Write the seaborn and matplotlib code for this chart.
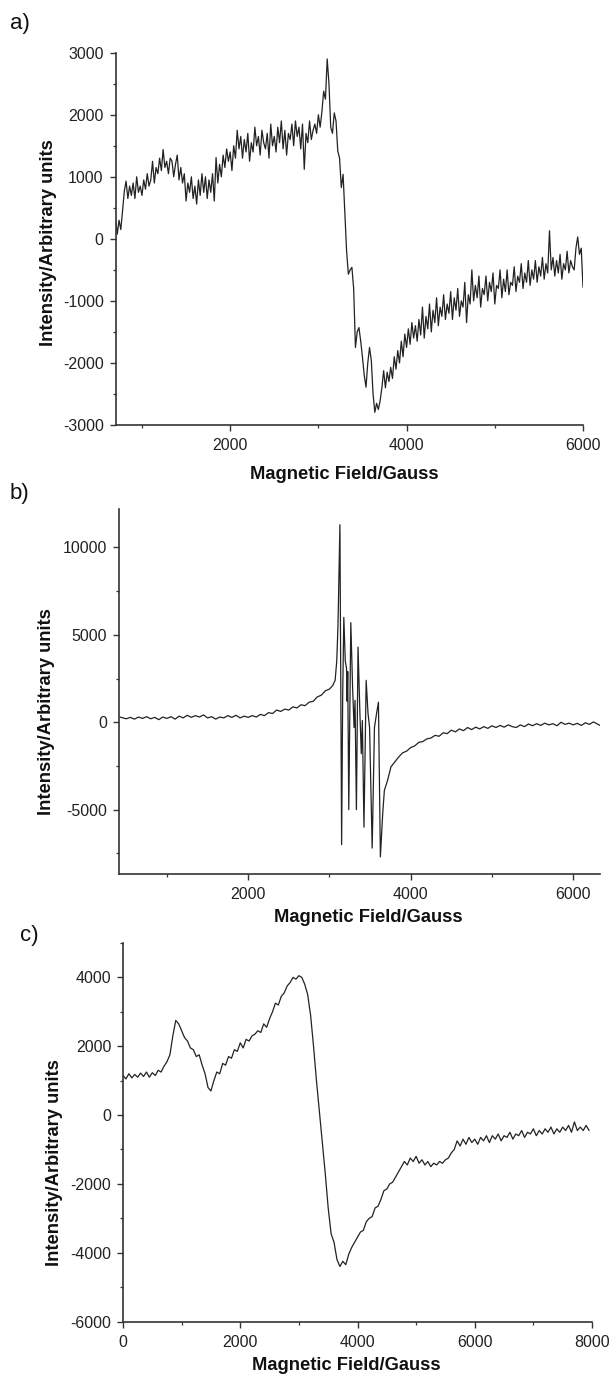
import numpy as np
import pandas as pd
import matplotlib
matplotlib.use("Agg")
import matplotlib.pyplot as plt
from matplotlib.ticker import MultipleLocator
import seaborn as sns

# ---- panel a: field sweep from 700 G, 20 G per point ----
int_a = [340, 75, 300, 150, 450, 770, 930, 650, 850, 700,
         900, 650, 1000, 750, 850, 700, 950, 800, 1050, 850,
         950, 1250, 900, 1150, 1050, 1300, 1100, 1440, 1150, 1250,
         1050, 1300, 1255, 1000, 1200, 1350, 950, 1150, 900, 1050,
         610, 900, 750, 1000, 650, 850, 560, 950, 700, 1050,
         750, 1000, 650, 950, 750, 1050, 610, 1310, 900, 1200,
         1000, 1350, 1150, 1450, 1250, 1400, 1100, 1500, 1300, 1750,
         1450, 1650, 1300, 1600, 1400, 1700, 1250, 1550, 1400, 1800,
         1500, 1650, 1350, 1750, 1550, 1450, 1700, 1300, 1850, 1500,
         1650, 1400, 1800, 1550, 1900, 1450, 1750, 1350, 1700, 1600,
         1850, 1500, 1900, 1650, 1800, 1450, 1850, 1120, 1700, 1550,
         1900, 1600, 1750, 1850, 1700, 2000, 1800, 2050, 2380, 2250,
         2900, 2500, 1800, 1700, 2030, 1900, 1415, 1300, 826, 1040,
         400, -200, -570, -500, -460, -800, -1750, -1500, -1430, -1650,
         -1910, -2200, -2390, -2000, -1750, -1960, -2500, -2795, -2650, -2750,
         -2610, -2400, -2125, -2400, -2150, -2300, -2070, -2250, -1900, -2100,
         -1800, -2000, -1650, -1900, -1535, -1750, -1450, -1700, -1350, -1600,
         -1400, -1650, -1300, -1550, -1100, -1600, -1250, -1450, -1050, -1500,
         -1150, -1350, -950, -1400, -1100, -1250, -900, -1300, -1050, -1200,
         -850, -1300, -950, -1150, -800, -1250, -1000, -1100, -700, -1350,
         -900, -1050, -500, -1000, -750, -950, -600, -1100, -800, -900,
         -600, -1000, -700, -850, -550, -1050, -750, -800, -500, -950,
         -650, -850, -500, -900, -700, -750, -450, -850, -600, -700,
         -400, -800, -550, -700, -350, -750, -500, -650, -350, -700,
         -450, -600, -300, -650, -400, -550, 130, -500, -300, -600,
         -350, -550, -250, -650, -400, -500, -200, -550, -350, -450,
         -500, -150, 30, -250, -150, -780]
field_a = np.arange(700, 700 + 20 * len(int_a), 20)

# ---- panel b ----
field_b = [420, 500, 550, 600, 650, 700, 750, 800, 850, 900,
           950, 1000, 1050, 1100, 1150, 1200, 1250, 1300, 1350, 1400,
           1450, 1500, 1550, 1600, 1650, 1700, 1750, 1800, 1850, 1900,
           1950, 2000, 2050, 2100, 2150, 2200, 2250, 2300, 2350, 2400,
           2450, 2500, 2550, 2600, 2650, 2700, 2750, 2800, 2850, 2900,
           2950, 3000, 3040, 3070, 3090, 3105, 3118, 3129, 3140, 3150,
           3163, 3177, 3195, 3210, 3218, 3225, 3238, 3263, 3285, 3303,
           3315, 3332, 3352, 3375, 3392, 3405, 3425, 3452, 3475, 3494,
           3526, 3554, 3580, 3603, 3627, 3656, 3676, 3717, 3757, 3800,
           3850, 3900, 3950, 4000, 4050, 4100, 4150, 4200, 4250, 4300,
           4350, 4400, 4450, 4500, 4550, 4600, 4650, 4700, 4750, 4800,
           4850, 4900, 4950, 5000, 5050, 5100, 5150, 5200, 5250, 5300,
           5350, 5400, 5450, 5500, 5550, 5600, 5650, 5700, 5750, 5800,
           5850, 5900, 5950, 6000, 6050, 6100, 6150, 6200, 6250, 6330]
int_b = [300, 200, 280, 180, 300, 220, 320, 200, 280, 150,
         300, 220, 320, 180, 350, 250, 400, 280, 380, 300,
         420, 250, 320, 180, 300, 250, 380, 280, 400, 250,
         350, 280, 380, 300, 450, 380, 550, 500, 700, 620,
         750, 700, 880, 820, 1000, 950, 1150, 1200, 1450, 1550,
         1800, 1900, 2100, 2400, 3500, 5500, 8500, 11300, 2000, -7000,
         1500, 6000, 3500, 3100, 1200, 2900, -5000, 5700, 2000, -300,
         1260, -5000, 4300, 500, -1800, 100, -6000, 2400, 500, -300,
         -7200, -300, 500, 1150, -7700, -5200, -3900, -3300, -2550, -2300,
         -2000, -1750, -1650, -1450, -1350, -1150, -1100, -950, -900, -750,
         -800, -600, -650, -450, -550, -380, -480, -300, -420, -280,
         -380, -250, -350, -200, -300, -180, -280, -150, -250, -300,
         -150, -250, -100, -200, -80, -180, -50, -150, -80, -200,
         0, -120, -50, -150, -60, -180, -30, -120, 20, -180]

# ---- panel c: field sweep from 0 G, 50 G per point ----
int_c = [1150, 1050, 1200, 1080, 1180, 1100, 1220, 1120, 1250, 1100,
         1230, 1150, 1300, 1250, 1420, 1550, 1750, 2300, 2750, 2650,
         2450, 2250, 2150, 1950, 1900, 1700, 1750, 1450, 1200, 800,
         700, 1000, 1250, 1200, 1500, 1450, 1700, 1650, 1900, 1850,
         2100, 1950, 2200, 2150, 2300, 2350, 2450, 2400, 2650, 2550,
         2800, 3000, 3250, 3200, 3450, 3550, 3750, 3850, 4000, 3950,
         4050, 4000, 3800, 3500, 2900, 2000, 1000, 100, -800, -1700,
         -2700, -3450, -3700, -4200, -4400, -4250, -4350, -4050, -3850, -3700,
         -3550, -3400, -3350, -3100, -3000, -2950, -2700, -2650, -2450, -2200,
         -2150, -2000, -1950, -1800, -1650, -1500, -1350, -1450, -1250, -1350,
         -1200, -1400, -1300, -1450, -1350, -1500, -1400, -1450, -1350, -1400,
         -1300, -1250, -1100, -1000, -750, -900, -700, -850, -650, -800,
         -700, -850, -650, -750, -600, -800, -600, -700, -550, -750,
         -600, -650, -500, -700, -550, -600, -450, -650, -500, -550,
         -400, -600, -450, -550, -400, -500, -350, -550, -400, -500,
         -350, -450, -300, -500, -200, -450, -350, -450, -300, -450]
field_c = np.arange(0, 50 * len(int_c), 50)

xlabel = "Magnetic Field/Gauss"
ylabel = "Intensity/Arbitrary units"

sns.set_theme(style="ticks")
plt.rcParams['font.family'] = ['Liberation Sans', 'DejaVu Sans']
plt.rcParams['axes.unicode_minus'] = False

W, H = 611, 1383
fig = plt.figure(figsize=(W / 100, H / 100), dpi=100)

def px_axes(left, right, top, bottom):
    return fig.add_axes([left / W, 1 - bottom / H, (right - left) / W, (bottom - top) / H])

panels = [
    dict(ax=px_axes(115.5, 583, 52.7, 425), x=field_a, y=int_a, xlim=(700, 6000), ylim=(-3000, 3000),
         ymaj=1000, ymin=500, tag="a)", tagpos=(10, 23),
         xl=(0.490, -0.134), yl=(-0.143, 0.489)),
    dict(ax=px_axes(119, 600, 509, 874), x=field_b, y=int_b, xlim=(410, 6330), ylim=(-8680, 12200),
         ymaj=5000, ymin=2500, tag="b)", tagpos=(10, 493),
         xl=(0.519, -0.118), yl=(-0.150, 0.444)),
    dict(ax=px_axes(123, 592, 943, 1321.5), x=field_c, y=int_c, xlim=(0, 8000), ylim=(-6000, 5000),
         ymaj=2000, ymin=1000, tag="c)", tagpos=(20, 935),
         xl=(0.476, -0.115), yl=(-0.146, 0.42)),
]

for p in panels:
    ax = p["ax"]
    df = pd.DataFrame({"field": p["x"], "intensity": p["y"]})
    sns.lineplot(data=df, x="field", y="intensity", ax=ax, color="#222222",
                 linewidth=0.9, estimator=None, sort=False)
    ax.set_xlim(*p["xlim"])
    ax.set_ylim(*p["ylim"])
    ax.xaxis.set_major_locator(MultipleLocator(2000))
    ax.xaxis.set_minor_locator(MultipleLocator(1000))
    ax.yaxis.set_major_locator(MultipleLocator(p["ymaj"]))
    ax.yaxis.set_minor_locator(MultipleLocator(p["ymin"]))
    sns.despine(ax=ax)
    for s in ("left", "bottom"):
        ax.spines[s].set_linewidth(1.2)
        ax.spines[s].set_color("#333333")
    ax.tick_params(which="major", direction="out", length=4.5, width=1.0, color="#333333",
                   labelsize=11.5, labelcolor="#222222")
    ax.tick_params(which="minor", direction="out", length=2.5, width=0.9, color="#333333")
    ax.tick_params(axis="x", pad=5)
    ax.tick_params(axis="y", pad=4)
    ax.set_xlabel(xlabel, fontsize=13.2, fontweight="bold", color="#111111")
    ax.set_ylabel(ylabel, fontsize=13.2, fontweight="bold", color="#111111")
    ax.xaxis.label.set_va("center")
    ax.yaxis.label.set_va("center")
    ax.xaxis.set_label_coords(*p["xl"])
    ax.yaxis.set_label_coords(*p["yl"])
    fig.text(p["tagpos"][0] / W, 1 - p["tagpos"][1] / H, p["tag"], fontsize=16,
             ha="left", va="center", color="#111111")

fig.savefig("out.png", dpi=100)
